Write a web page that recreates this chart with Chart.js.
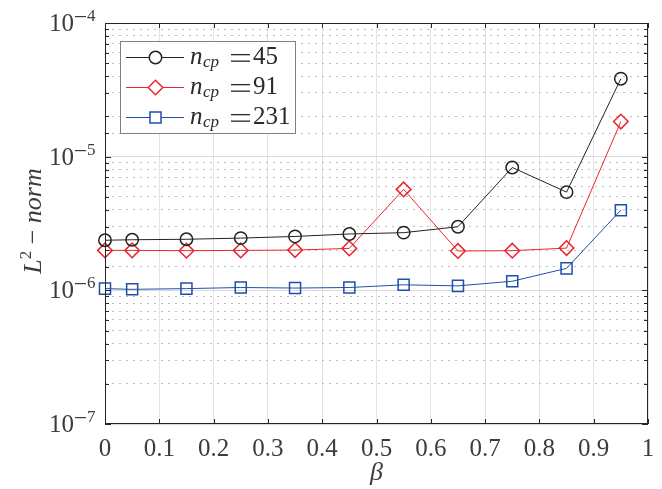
<!DOCTYPE html>
<html>
<head>
<meta charset="utf-8">
<script src="https://cdn.jsdelivr.net/npm/chart.js@4.4.0/dist/chart.umd.min.js"></script>
<style>
html, body { margin: 0; padding: 0; background: #fff; }
</style>
</head>
<body>
<canvas id="chart" width="662" height="489"></canvas>
<script>
'use strict'
// datos
const beta = [0, 0.05, 0.15, 0.25, 0.35, 0.45, 0.55, 0.65, 0.75, 0.85, 0.95]
const err45 = [2.37e-6, 2.39e-6, 2.41e-6, 2.46e-6, 2.53e-6, 2.64e-6, 2.70e-6, 2.99e-6, 8.3e-6, 5.43e-6, 3.83e-5]
const err91 = [1.99e-6, 1.99e-6, 1.98e-6, 1.99e-6, 2.0e-6, 2.06e-6, 5.69e-6, 1.97e-6, 1.98e-6, 2.07e-6, 1.83e-5]
const err231 = [1.03e-6, 1.017e-6, 1.03e-6, 1.05e-6, 1.04e-6, 1.05e-6, 1.10e-6, 1.08e-6, 1.17e-6, 1.46e-6, 3.98e-6]
const xTickLabels = ['0', '0.1', '0.2', '0.3', '0.4', '0.5', '0.6', '0.7', '0.8', '0.9', '1']
const yDecades = [-7, -6, -5, -4]
const legendValues = ['45', '91', '231']

const SERIF = '"Liberation Serif", "Times New Roman", serif'
const TEXT = '#3c3c3c'
const AXIS = '#262626'
const colors = ['#222222', '#e8262d', '#1f4fa8']
const styles = ['circle', 'rectRot', 'rect']
const radii = [6.2, 7.3, 7.8]

const isMajor = v => Math.abs(Math.log10(v) - Math.round(Math.log10(v))) < 1e-6

function mkData(arr) {
    return beta.map((b, i) => ({ x: b, y: arr[i] }))
}

// plugin para caja, ticks hacia adentro, etiquetas y leyenda
const matlabLook = {
    id: 'matlabLook',
    afterDraw(chart) {
        const ctx = chart.ctx
        const a = chart.chartArea
        const xs = chart.scales.x
        const ys = chart.scales.y
        ctx.save()
        // caja
        ctx.strokeStyle = AXIS
        ctx.lineWidth = 1
        ctx.strokeRect(Math.round(a.left) + 0.5, Math.round(a.top) + 0.5,
            Math.round(a.right - a.left) - 1, Math.round(a.bottom - a.top) - 1)
        // ticks x
        ctx.beginPath()
        xTickLabels.forEach(t => {
            const px = Math.round(xs.getPixelForValue(parseFloat(t))) + 0.5
            ctx.moveTo(px, a.bottom); ctx.lineTo(px, a.bottom - 5)
            ctx.moveTo(px, a.top); ctx.lineTo(px, a.top + 5)
        })
        // ticks y
        ys.ticks.forEach(t => {
            const py = Math.round(ys.getPixelForValue(t.value)) + 0.5
            const len = isMajor(t.value) ? 6 : 4
            ctx.moveTo(a.left, py); ctx.lineTo(a.left + len, py)
            ctx.moveTo(a.right, py); ctx.lineTo(a.right - len, py)
        })
        ctx.stroke()

        // etiquetas x
        ctx.fillStyle = TEXT
        ctx.font = '25px ' + SERIF
        ctx.textAlign = 'center'
        ctx.textBaseline = 'alphabetic'
        xTickLabels.forEach(t => {
            const px = xs.getPixelForValue(parseFloat(t))
            ctx.fillText(t, px, a.bottom + 32)
        })
        // titulo x
        ctx.font = 'italic 26px ' + SERIF
        ctx.fillText('β', (a.left + a.right) / 2, a.bottom + 56)

        // etiquetas y con exponente
        yDecades.forEach(d => {
            const py = ys.getPixelForValue(Math.pow(10, d))
            ctx.font = '25px ' + SERIF
            ctx.textAlign = 'right'
            ctx.fillText('10', 74, py + 8)
            ctx.fillRect(75, Math.round(py - 7), 11, 1.2)
            ctx.font = '17px ' + SERIF
            ctx.textAlign = 'left'
            ctx.fillText(String(Math.abs(d)), 87, py - 2)
        })

        // titulo y
        ctx.save()
        ctx.translate(41, 221)
        ctx.rotate(-Math.PI / 2)
        const parts = [
            { t: 'L', f: 'italic 26px ' + SERIF, dy: 0 },
            { t: '2', f: '17px ' + SERIF, dy: -10 },
            { t: ' − ', f: '26px ' + SERIF, dy: 0 },
            { t: 'norm', f: 'italic 26px ' + SERIF, dy: 0 }
        ]
        let total = 0
        parts.forEach(p => { ctx.font = p.f; p.w = ctx.measureText(p.t).width; total += p.w })
        let cx = -total / 2
        ctx.textAlign = 'left'
        parts.forEach(p => {
            ctx.font = p.f
            ctx.fillText(p.t, cx, p.dy)
            cx += p.w
        })
        ctx.restore()

        // leyenda
        const lx = 120, ly = 41, lw = 175, lh = 92
        ctx.fillStyle = '#fff'
        ctx.fillRect(lx, ly, lw, lh)
        ctx.strokeStyle = '#808080'
        ctx.lineWidth = 1
        ctx.strokeRect(lx + 0.5, ly + 0.5, lw, lh)
        const rows = [57, 87, 117]
        chart.data.datasets.forEach((ds, i) => {
            const ry = rows[i]
            ctx.strokeStyle = colors[i]
            ctx.lineWidth = 1
            ctx.beginPath()
            ctx.moveTo(126, ry + 0.5); ctx.lineTo(184, ry + 0.5)
            ctx.stroke()
            ctx.lineWidth = 1.5
            ctx.fillStyle = '#fff'
            Chart.helpers.drawPoint(ctx, { pointStyle: styles[i], radius: radii[i], rotation: 0, borderWidth: 1.5 }, 155.5, ry + 0.5)
            ctx.fillStyle = '#2a2a2a'
            ctx.textAlign = 'left'
            ctx.font = 'italic 25px ' + SERIF
            ctx.fillText('n', 190, ry + 7)
            ctx.font = 'italic 17px ' + SERIF
            ctx.fillText('cp', 203, ry + 10)
            // signo igual ancho como en LaTeX
            ctx.fillRect(231, ry - 3, 19, 1.3)
            ctx.fillRect(231, ry + 3.5, 19, 1.3)
            ctx.font = '25px ' + SERIF
            ctx.fillText(legendValues[i], 253, ry + 7)
        })
        ctx.restore()
    }
}

function createChart() {
    const ctx = document.getElementById('chart').getContext('2d')
    const myChart = new Chart(ctx, {
        type: 'line',
        data: {
            datasets: [err45, err91, err231].map((arr, i) => ({
                label: 'n_cp = ' + legendValues[i],
                data: mkData(arr),
                borderColor: colors[i],
                backgroundColor: 'rgba(0,0,0,0)',
                borderWidth: 1,
                pointStyle: styles[i],
                pointRadius: radii[i],
                pointBorderWidth: 1.5,
                pointBorderColor: colors[i],
                pointBackgroundColor: 'rgba(0,0,0,0)',
                tension: 0,
                clip: false
            }))
        },
        options: {
            responsive: false,
            animation: false,
            layout: { padding: { top: 23, right: 14, left: 0, bottom: 0 } },
            plugins: { legend: { display: false }, tooltip: { enabled: false } },
            scales: {
                x: {
                    type: 'linear',
                    min: 0,
                    max: 1,
                    ticks: { stepSize: 0.1, display: false },
                    grid: { color: '#e2e2e2', lineWidth: 1, drawTicks: false },
                    border: { display: false },
                    afterFit: s => { s.height = 65 }
                },
                y: {
                    type: 'logarithmic',
                    min: 1e-7,
                    max: 1e-4,
                    ticks: { display: false },
                    grid: {
                        color: c => (c.tick && isMajor(c.tick.value)) ? '#dadada' : '#bdbdbd',
                        lineWidth: 1,
                        drawTicks: false
                    },
                    border: {
                        display: false,
                        dash: c => (c.tick && isMajor(c.tick.value)) ? [] : [2, 5]
                    },
                    afterFit: s => { s.width = 105 }
                }
            }
        },
        plugins: [matlabLook]
    })
}

createChart()
</script>
</body>
</html>
